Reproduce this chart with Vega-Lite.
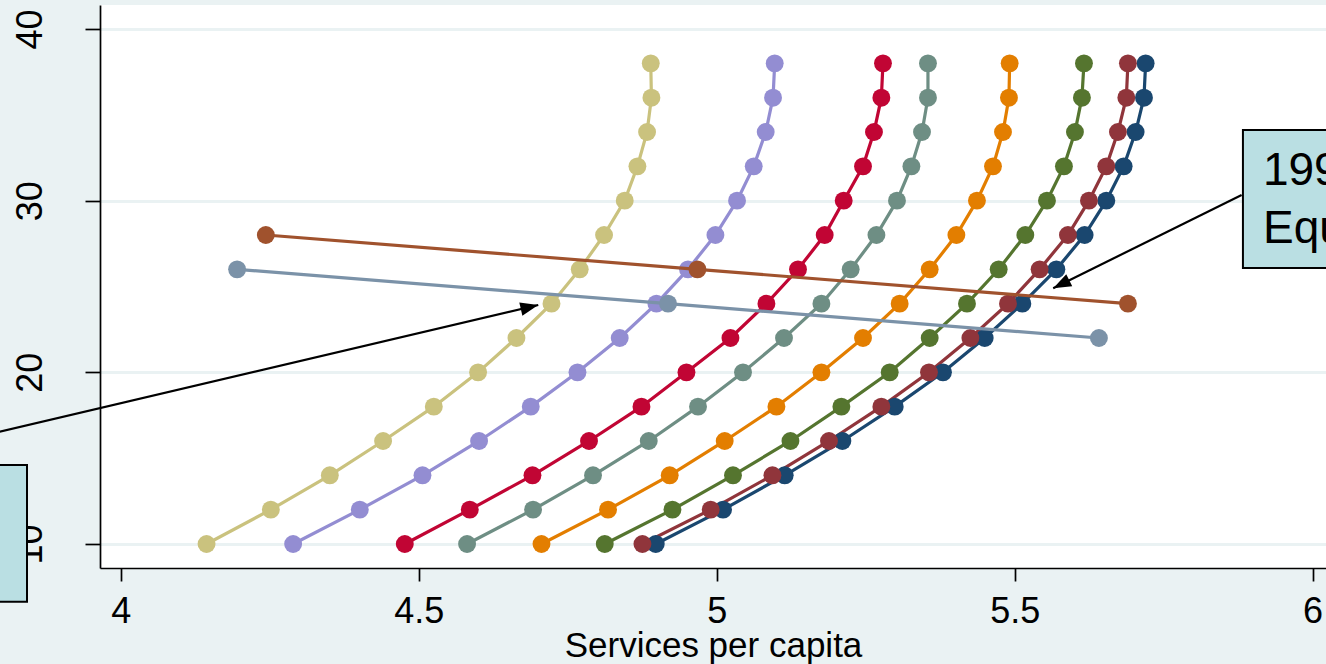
{
  "$schema": "https://vega.github.io/schema/vega-lite/v6.json",
  "width": 1226,
  "height": 563,
  "autosize": {"type": "none"},
  "padding": {"left": 100, "top": 5, "right": 0, "bottom": 96},
  "background": "#EAF2F3",
  "config": {
    "view": {"fill": "white", "stroke": null},
    "font": "Liberation Sans",
    "axis": {
      "zindex": 0,
      "domainColor": "black",
      "domainWidth": 1.7,
      "tickColor": "black",
      "tickWidth": 1.7,
      "labelColor": "black",
      "labelFont": "Liberation Sans",
      "titleFont": "Liberation Sans",
      "labelFontSize": 36,
      "titleFontSize": 35,
      "titleFontWeight": "normal",
      "titleColor": "black",
      "labelFlush": false,
      "labelOverlap": false
    }
  },
  "datasets": {
    "curves": [
      {"series": "Series 1", "y": 10, "x": 4.8977}, {"series": "Series 1", "y": 12, "x": 5.0106}, {"series": "Series 1", "y": 14, "x": 5.1141}, {"series": "Series 1", "y": 16, "x": 5.2109}, {"series": "Series 1", "y": 18, "x": 5.2987}, {"series": "Series 1", "y": 20, "x": 5.3797}, {"series": "Series 1", "y": 22, "x": 5.4497}, {"series": "Series 1", "y": 24, "x": 5.5129}, {"series": "Series 1", "y": 26, "x": 5.5700}, {"series": "Series 1", "y": 28, "x": 5.6174}, {"series": "Series 1", "y": 30, "x": 5.6538}, {"series": "Series 1", "y": 32, "x": 5.6829}, {"series": "Series 1", "y": 34, "x": 5.7030}, {"series": "Series 1", "y": 36, "x": 5.7170}, {"series": "Series 1", "y": 38, "x": 5.7198},
      {"series": "Series 2", "y": 10, "x": 4.8753}, {"series": "Series 2", "y": 12, "x": 4.9899}, {"series": "Series 2", "y": 14, "x": 5.0935}, {"series": "Series 2", "y": 16, "x": 5.1884}, {"series": "Series 2", "y": 18, "x": 5.2763}, {"series": "Series 2", "y": 20, "x": 5.3562}, {"series": "Series 2", "y": 22, "x": 5.4257}, {"series": "Series 2", "y": 24, "x": 5.4888}, {"series": "Series 2", "y": 26, "x": 5.5419}, {"series": "Series 2", "y": 28, "x": 5.5894}, {"series": "Series 2", "y": 30, "x": 5.6247}, {"series": "Series 2", "y": 32, "x": 5.6538}, {"series": "Series 2", "y": 34, "x": 5.6733}, {"series": "Series 2", "y": 36, "x": 5.6874}, {"series": "Series 2", "y": 38, "x": 5.6901},
      {"series": "Series 3", "y": 10, "x": 4.8121}, {"series": "Series 3", "y": 12, "x": 4.9257}, {"series": "Series 3", "y": 14, "x": 5.0273}, {"series": "Series 3", "y": 16, "x": 5.1237}, {"series": "Series 3", "y": 18, "x": 5.2092}, {"series": "Series 3", "y": 20, "x": 5.2903}, {"series": "Series 3", "y": 22, "x": 5.3574}, {"series": "Series 3", "y": 24, "x": 5.4200}, {"series": "Series 3", "y": 26, "x": 5.4732}, {"series": "Series 3", "y": 28, "x": 5.5179}, {"series": "Series 3", "y": 30, "x": 5.5542}, {"series": "Series 3", "y": 32, "x": 5.5827}, {"series": "Series 3", "y": 34, "x": 5.6012}, {"series": "Series 3", "y": 36, "x": 5.6129}, {"series": "Series 3", "y": 38, "x": 5.6163},
      {"series": "Series 4", "y": 10, "x": 4.7059}, {"series": "Series 4", "y": 12, "x": 4.8176}, {"series": "Series 4", "y": 14, "x": 4.9211}, {"series": "Series 4", "y": 16, "x": 5.0134}, {"series": "Series 4", "y": 18, "x": 5.1002}, {"series": "Series 4", "y": 20, "x": 5.1757}, {"series": "Series 4", "y": 22, "x": 5.2455}, {"series": "Series 4", "y": 24, "x": 5.3070}, {"series": "Series 4", "y": 26, "x": 5.3574}, {"series": "Series 4", "y": 28, "x": 5.4022}, {"series": "Series 4", "y": 30, "x": 5.4367}, {"series": "Series 4", "y": 32, "x": 5.4636}, {"series": "Series 4", "y": 34, "x": 5.4804}, {"series": "Series 4", "y": 36, "x": 5.4904}, {"series": "Series 4", "y": 38, "x": 5.4916},
      {"series": "Series 5", "y": 10, "x": 4.5810}, {"series": "Series 5", "y": 12, "x": 4.6918}, {"series": "Series 5", "y": 14, "x": 4.7924}, {"series": "Series 5", "y": 16, "x": 4.8859}, {"series": "Series 5", "y": 18, "x": 4.9686}, {"series": "Series 5", "y": 20, "x": 5.0441}, {"series": "Series 5", "y": 22, "x": 5.1129}, {"series": "Series 5", "y": 24, "x": 5.1757}, {"series": "Series 5", "y": 26, "x": 5.2248}, {"series": "Series 5", "y": 28, "x": 5.2680}, {"series": "Series 5", "y": 30, "x": 5.3025}, {"series": "Series 5", "y": 32, "x": 5.3267}, {"series": "Series 5", "y": 34, "x": 5.3445}, {"series": "Series 5", "y": 36, "x": 5.3545}, {"series": "Series 5", "y": 38, "x": 5.3545},
      {"series": "Series 6", "y": 10, "x": 4.4765}, {"series": "Series 6", "y": 12, "x": 4.5856}, {"series": "Series 6", "y": 14, "x": 4.6908}, {"series": "Series 6", "y": 16, "x": 4.7857}, {"series": "Series 6", "y": 18, "x": 4.8737}, {"series": "Series 6", "y": 20, "x": 4.9492}, {"series": "Series 6", "y": 22, "x": 5.0230}, {"series": "Series 6", "y": 24, "x": 5.0834}, {"series": "Series 6", "y": 26, "x": 5.1364}, {"series": "Series 6", "y": 28, "x": 5.1812}, {"series": "Series 6", "y": 30, "x": 5.2131}, {"series": "Series 6", "y": 32, "x": 5.2455}, {"series": "Series 6", "y": 34, "x": 5.2639}, {"series": "Series 6", "y": 36, "x": 5.2763}, {"series": "Series 6", "y": 38, "x": 5.2790},
      {"series": "Series 7", "y": 10, "x": 4.2891}, {"series": "Series 7", "y": 12, "x": 4.4010}, {"series": "Series 7", "y": 14, "x": 4.5062}, {"series": "Series 7", "y": 16, "x": 4.6012}, {"series": "Series 7", "y": 18, "x": 4.6879}, {"series": "Series 7", "y": 20, "x": 4.7663}, {"series": "Series 7", "y": 22, "x": 4.8372}, {"series": "Series 7", "y": 24, "x": 4.8988}, {"series": "Series 7", "y": 26, "x": 4.9518}, {"series": "Series 7", "y": 28, "x": 4.9978}, {"series": "Series 7", "y": 30, "x": 5.0341}, {"series": "Series 7", "y": 32, "x": 5.0621}, {"series": "Series 7", "y": 34, "x": 5.0822}, {"series": "Series 7", "y": 36, "x": 5.0945}, {"series": "Series 7", "y": 38, "x": 5.0973},
      {"series": "Series 8", "y": 10, "x": 4.1438}, {"series": "Series 8", "y": 12, "x": 4.2517}, {"series": "Series 8", "y": 14, "x": 4.3507}, {"series": "Series 8", "y": 16, "x": 4.4401}, {"series": "Series 8", "y": 18, "x": 4.5252}, {"series": "Series 8", "y": 20, "x": 4.5995}, {"series": "Series 8", "y": 22, "x": 4.6639}, {"series": "Series 8", "y": 24, "x": 4.7227}, {"series": "Series 8", "y": 26, "x": 4.7701}, {"series": "Series 8", "y": 28, "x": 4.8109}, {"series": "Series 8", "y": 30, "x": 4.8456}, {"series": "Series 8", "y": 32, "x": 4.8669}, {"series": "Series 8", "y": 34, "x": 4.8831}, {"series": "Series 8", "y": 36, "x": 4.8904}, {"series": "Series 8", "y": 38, "x": 4.8893}
    ],
    "hlines": [
      {"series": "Series 9", "y": 28, "x": 4.2433}, {"series": "Series 9", "y": 26, "x": 4.9676}, {"series": "Series 9", "y": 24, "x": 5.6901},
      {"series": "Series 10", "y": 26, "x": 4.1951}, {"series": "Series 10", "y": 24, "x": 4.9183}, {"series": "Series 10", "y": 22, "x": 5.6414}
    ],
    "arrows": [
      {"arrow": "left", "x": 3.7468, "y": 16.13, "x2": 4.7005, "y2": 23.92},
      {"arrow": "right", "x": 5.8809, "y": 30.33, "x2": 5.5647, "y2": 24.90}
    ],
    "heads": [
      {"arrow": "left", "x": 4.7005, "y": 23.92},
      {"arrow": "right", "x": 5.5647, "y": 24.90}
    ],
    "boxes": [
      {"box": "left", "x": 3.4, "x2": 3.8425, "y": 14.60, "y2": 6.64},
      {"box": "right", "x": 5.8831, "x2": 6.4, "y": 34.12, "y2": 26.08}
    ],
    "notes": [
      {"note": "1990\nEquilibrium", "x": 5.9167, "y": 30.91}
    ]
  },
  "layer": [
    {
      "data": {"name": "curves"},
      "mark": {"type": "line", "strokeWidth": 3.2, "point": {"filled": true, "size": 320, "opacity": 1}},
      "encoding": {
        "x": {
          "field": "x", "type": "quantitative",
          "scale": {"domain": [3.965, 6.0225], "nice": false, "zero": false},
          "axis": {"title": "Services per capita", "values": [4, 4.5, 5, 5.5, 6], "format": "~g", "grid": false, "tickSize": 13, "labelBaseline": "alphabetic", "labelPadding": 41, "titleBaseline": "alphabetic", "titleY": 88}
        },
        "y": {
          "field": "y", "type": "quantitative",
          "scale": {"domain": [8.6, 41.4], "nice": false, "zero": false},
          "axis": {"title": null, "values": [10, 20, 30, 40], "format": "d", "grid": true, "gridColor": "#EAF2F3", "gridWidth": 3, "tickSize": 15, "labelAngle": 270, "labelAlign": "center", "labelBaseline": "alphabetic", "labelPadding": 44}
        },
        "color": {
          "field": "series", "type": "nominal",
          "scale": {
            "domain": ["Series 1", "Series 2", "Series 3", "Series 4", "Series 5", "Series 6", "Series 7", "Series 8", "Series 9", "Series 10"],
            "range": ["#1A476F", "#90353B", "#55752F", "#E37E00", "#6E8E84", "#C10534", "#938DD2", "#CAC27E", "#A0522D", "#7B92A8"]
          },
          "legend": null
        },
        "order": {"value": null}
      }
    },
    {
      "data": {"name": "hlines"},
      "mark": {"type": "line", "strokeWidth": 3.2, "point": {"filled": true, "size": 320, "opacity": 1}},
      "encoding": {
        "x": {"field": "x", "type": "quantitative", "scale": {"domain": [3.965, 6.0225], "nice": false, "zero": false}},
        "y": {"field": "y", "type": "quantitative", "scale": {"domain": [8.6, 41.4], "nice": false, "zero": false}},
        "color": {"field": "series", "type": "nominal", "legend": null},
        "order": {"value": null}
      }
    },
    {
      "data": {"name": "arrows"},
      "mark": {"type": "rule", "color": "black", "strokeWidth": 2.2},
      "encoding": {
        "x": {"field": "x", "type": "quantitative", "scale": {"domain": [3.965, 6.0225], "nice": false, "zero": false}},
        "y": {"field": "y", "type": "quantitative", "scale": {"domain": [8.6, 41.4], "nice": false, "zero": false}},
        "x2": {"field": "x2"},
        "y2": {"field": "y2"}
      }
    },
    {
      "data": {"name": "heads"},
      "transform": [{"filter": "datum.arrow == 'left'"}],
      "mark": {"type": "point", "shape": "M0,0L0.75,2L-0.75,2Z", "filled": true, "color": "black", "opacity": 1, "size": 320, "angle": 76.75, "strokeWidth": 0},
      "encoding": {
        "x": {"field": "x", "type": "quantitative", "scale": {"domain": [3.965, 6.0225], "nice": false, "zero": false}},
        "y": {"field": "y", "type": "quantitative", "scale": {"domain": [8.6, 41.4], "nice": false, "zero": false}}
      }
    },
    {
      "data": {"name": "heads"},
      "transform": [{"filter": "datum.arrow == 'right'"}],
      "mark": {"type": "point", "shape": "M0,0L0.75,2L-0.75,2Z", "filled": true, "color": "black", "opacity": 1, "size": 320, "angle": 243.65, "strokeWidth": 0},
      "encoding": {
        "x": {"field": "x", "type": "quantitative", "scale": {"domain": [3.965, 6.0225], "nice": false, "zero": false}},
        "y": {"field": "y", "type": "quantitative", "scale": {"domain": [8.6, 41.4], "nice": false, "zero": false}}
      }
    },
    {
      "data": {"name": "boxes"},
      "mark": {"type": "rect", "fill": "#BADFE3", "stroke": "black", "strokeWidth": 2},
      "encoding": {
        "x": {"field": "x", "type": "quantitative", "scale": {"domain": [3.965, 6.0225], "nice": false, "zero": false}},
        "y": {"field": "y", "type": "quantitative", "scale": {"domain": [8.6, 41.4], "nice": false, "zero": false}},
        "x2": {"field": "x2"},
        "y2": {"field": "y2"}
      }
    },
    {
      "data": {"name": "notes"},
      "mark": {"type": "text", "font": "Liberation Sans", "fontSize": 46, "lineHeight": 58, "lineBreak": "\n", "align": "left", "baseline": "alphabetic", "color": "black"},
      "encoding": {
        "x": {"field": "x", "type": "quantitative", "scale": {"domain": [3.965, 6.0225], "nice": false, "zero": false}},
        "y": {"field": "y", "type": "quantitative", "scale": {"domain": [8.6, 41.4], "nice": false, "zero": false}},
        "text": {"field": "note"}
      }
    }
  ]
}
